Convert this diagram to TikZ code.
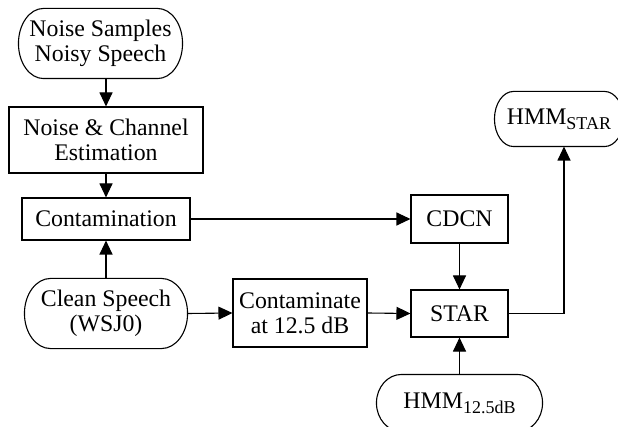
\documentclass[tikz,border=0pt]{standalone}
\usepackage{fontspec}
\setmainfont{Liberation Serif}
\usetikzlibrary{arrows.meta,calc}

% outline of a terminal: flat top and bottom, elliptic ends
\newcommand\termoutline[2]{%
  \draw[line width=1.1pt] let \p1=(#1.north west), \p2=(#1.south east), \n1={(\y1-\y2)/2} in
    ([xshift=#2]#1.north west) -- ([xshift=-#2]#1.north east)
    arc[start angle=90, end angle=-90, x radius=#2, y radius=\n1]
    -- ([xshift=#2]#1.south west)
    arc[start angle=270, end angle=90, x radius=#2, y radius=\n1] -- cycle;}

% lowered, reduced label part
\newcommand\lowsub[1]{\raisebox{-5pt}{\fontsize{18}{18}\selectfont #1}}

\begin{document}
\begin{tikzpicture}[x=1pt,y=-1pt,
  every node/.style={font=\fontsize{23.8}{25}\selectfont, align=center, inner sep=0pt, line width=1.1pt},
  blk/.style={draw, rectangle},
  term/.style={rectangle},
  flow/.style={line width=1.1pt, -{Triangle[length=14pt,width=13pt]}}
]
\useasboundingbox (0,0) rectangle (618,427);

% sources, processing blocks and results
\node[term, minimum width=163pt, minimum height=69pt] (ns) at (100.5,43.5) {Noise Samples\\Noisy Speech};
\node[blk, minimum width=194pt, minimum height=66pt] (nce) at (106,140) {Noise \& Channel\\Estimation};
\node[blk, minimum width=168pt, minimum height=42pt] (cont) at (106,219) {Contamination};
\node[term, minimum width=162pt, minimum height=69pt] (clean) at (106,313.5) {Clean Speech\\(WSJ0)};
\node[blk, minimum width=134pt, minimum height=68pt] (ctm) at (300,313) {Contaminate\\at 12.5 dB};
\node[blk, minimum width=97pt, minimum height=48pt] (cdcn) at (459.5,219) {CDCN};
\node[blk, minimum width=97pt, minimum height=47pt] (star) at (459.5,313.5) {STAR};
\node[term, minimum width=128pt, minimum height=54pt] (hmmstar) at (559,119) {HMM\lowsub{STAR}};
\node[term, minimum width=165pt, minimum height=56pt] (hmm125) at (459.5,403) {HMM\lowsub{12.5dB}};

\termoutline{ns}{25pt}
\termoutline{clean}{26pt}
\termoutline{hmmstar}{19pt}
\termoutline{hmm125}{25pt}

\coordinate (turn) at (564,313.5);

% connectors
\draw[flow] (nce.north |- ns.south) -- (nce.north);
\draw[flow] (nce.south) -- (cont.north);
\draw[flow] (clean.north) -- (cont.south);
\draw[flow] (cont.east) -- (cdcn.west);
\draw[flow] (clean.east) -- (ctm.west);
\draw[flow] (ctm.east) -- (star.west);
\draw[flow] (cdcn.south) -- (star.north);
\draw[flow] (hmm125.north) -- (star.south);
\draw[flow] (star.east) -| (hmmstar.south -| turn);
\end{tikzpicture}
\end{document}
